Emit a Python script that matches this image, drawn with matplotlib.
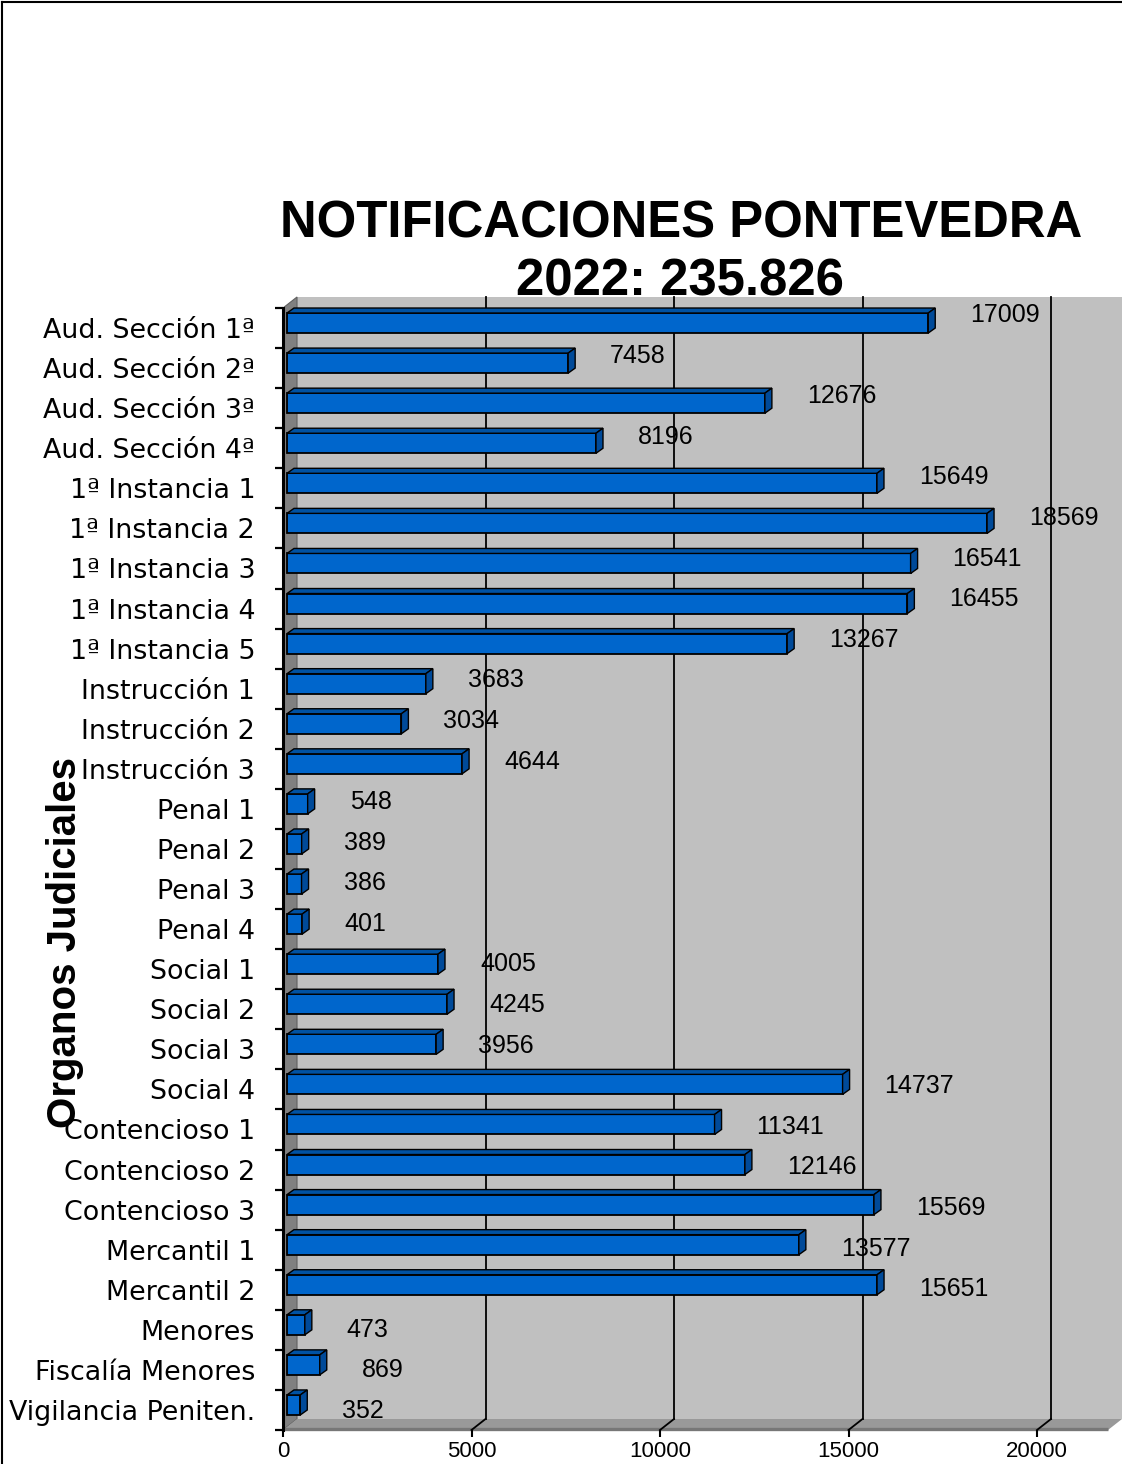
import matplotlib
matplotlib.use('Agg')
import matplotlib.pyplot as plt
from matplotlib.patches import Polygon, Rectangle
from matplotlib.lines import Line2D
import numpy as np

categories = ["Aud. Sección 1ª", "Aud. Sección 2ª", "Aud. Sección 3ª", "Aud. Sección 4ª",
              "1ª Instancia 1", "1ª Instancia 2", "1ª Instancia 3", "1ª Instancia 4",
              "1ª Instancia 5", "Instrucción 1", "Instrucción 2", "Instrucción 3",
              "Penal 1", "Penal 2", "Penal 3", "Penal 4",
              "Social 1", "Social 2", "Social 3", "Social 4",
              "Contencioso 1", "Contencioso 2", "Contencioso 3",
              "Mercantil 1", "Mercantil 2", "Menores", "Fiscalía Menores",
              "Vigilancia Peniten."]
values = [17009, 7458, 12676, 8196, 15649, 18569, 16541, 16455, 13267,
          3683, 3034, 4644, 548, 389, 386, 401, 4005, 4245, 3956, 14737,
          11341, 12146, 15569, 13577, 15651, 473, 869, 352]
xticks = [0, 5000, 10000, 15000, 20000]
title_lines = ["NOTIFICACIONES PONTEVEDRA", "2022: 235.826"]
ylabel = "Organos Judiciales"

W, H = 1122, 1464
fig = plt.figure(figsize=(W / 100, H / 100), dpi=100)
fig.patch.set_facecolor('white')

# front plane of the 3D box in pixels
L, R, T, B = 283, 1108, 308, 1430
ax = fig.add_axes([L / W, 1 - B / H, (R - L) / W, (B - T) / H])
n = len(categories)
xmax = (R - L) / (754 / 20000)
ax.set_xlim(0, xmax)
ax.set_ylim(n - 0.5, -0.5)
ax.set_facecolor('none')
px = xmax / (R - L)      # data units per pixel (x)
py = n / (B - T)         # categories per pixel (y)

# depth of box
DX, DY = 14 * px, 11 * py
y_top, y_bot = -0.5, n - 0.5

# back wall
ax.add_patch(Rectangle((DX, y_top - DY), xmax + 40 * px, (y_bot - y_top), facecolor='#c0c0c0',
                       edgecolor='none', zorder=0, clip_on=False))
# left wall
ax.add_patch(Polygon([(0, y_top), (DX, y_top - DY), (DX, y_bot - DY), (0, y_bot)],
                     closed=True, facecolor='#808080', edgecolor='#606060', lw=0.8,
                     zorder=1, clip_on=False))
# floor
ax.add_patch(Polygon([(0, y_bot), (xmax, y_bot), (xmax + DX, y_bot - DY), (DX, y_bot - DY)],
                     closed=True, facecolor='#999999', edgecolor='none',
                     zorder=1, clip_on=False))
ax.plot([0, xmax], [y_bot - 1.2 * py, y_bot - 1.2 * py], color='#777777', lw=2.4,
        zorder=1.2, clip_on=False, solid_capstyle='butt')
# gridlines on back wall and floor
for xv in xticks[1:]:
    ax.plot([xv + DX, xv + DX], [y_top - DY, y_bot - DY], color='black', lw=1.3,
            zorder=1.5, clip_on=False)
    ax.plot([xv, xv + DX], [y_bot, y_bot - DY], color='black', lw=1.3,
            zorder=1.5, clip_on=False)

# bars with 3D faces
bx, by = 4 * px, 5 * py
dx, dy = 7 * px, 5 * py
hgt = 0.5
ys = np.arange(n) - by
ax.barh(ys, values, left=bx, height=hgt, color='#0066cc', edgecolor='black',
        lw=1.3, zorder=4, clip_on=False)
for i, v in enumerate(values):
    x0, x1 = bx, bx + v
    yt, yb = ys[i] - hgt / 2, ys[i] + hgt / 2
    ax.add_patch(Polygon([(x0, yt), (x1, yt), (x1 + dx, yt - dy), (x0 + dx, yt - dy)],
                         closed=True, facecolor='#0052a3', edgecolor='black', lw=1.0,
                         zorder=4, clip_on=False))
    ax.add_patch(Polygon([(x1, yt), (x1, yb), (x1 + dx, yb - dy), (x1 + dx, yt - dy)],
                         closed=True, facecolor='#004a99', edgecolor='black', lw=1.0,
                         zorder=4, clip_on=False))
    shift = (13 - 14 * i / (n - 1)) * py
    ax.text(x1 + dx + 35 * px, i - shift, str(v), ha='left', va='center',
            fontsize=18, family='Liberation Sans', color='black', zorder=5)

# axes, ticks
for s in ['top', 'right', 'bottom']:
    ax.spines[s].set_visible(False)
ax.spines['left'].set_linewidth(2.2)
ax.spines['left'].set_zorder(3)
ax.set_yticks(range(n))
ax.set_yticklabels(categories, fontsize=19.4, family='DejaVu Sans')
ax.tick_params(axis='y', which='major', length=0, pad=20)
ax.set_yticks(np.arange(-0.5, n), minor=True)
ax.tick_params(axis='y', which='minor', length=6, width=1.6, direction='out')
ax.set_xticks(xticks)
ax.set_xticklabels([str(t) for t in xticks])
ax.tick_params(axis='x', length=5, width=1.5, pad=3, labelsize=16)
for lab in ax.get_xticklabels():
    lab.set_family(['Liberation Sans Narrow', 'Liberation Sans'])

# titles
fig.text(681 / W, 1 - 224 / H, title_lines[0], ha='center', va='center', fontsize=36.6,
         fontweight='bold', family='Liberation Sans')
fig.text(680 / W, 1 - 282 / H, title_lines[1], ha='center', va='center', fontsize=36.6,
         fontweight='bold', family='Liberation Sans', zorder=10)
fig.text(65 / W, 1 - 942 / H, ylabel, ha='center', va='center', rotation=90, fontsize=29,
         fontweight='bold', family='Liberation Sans')

# outer frame
fig.add_artist(Line2D([2 / W, 2 / W], [0, 1 - 2 / H], color='black', lw=1.5))
fig.add_artist(Line2D([2 / W, 1], [1 - 2 / H, 1 - 2 / H], color='black', lw=1.5))

fig.savefig('out.png', dpi=100)
